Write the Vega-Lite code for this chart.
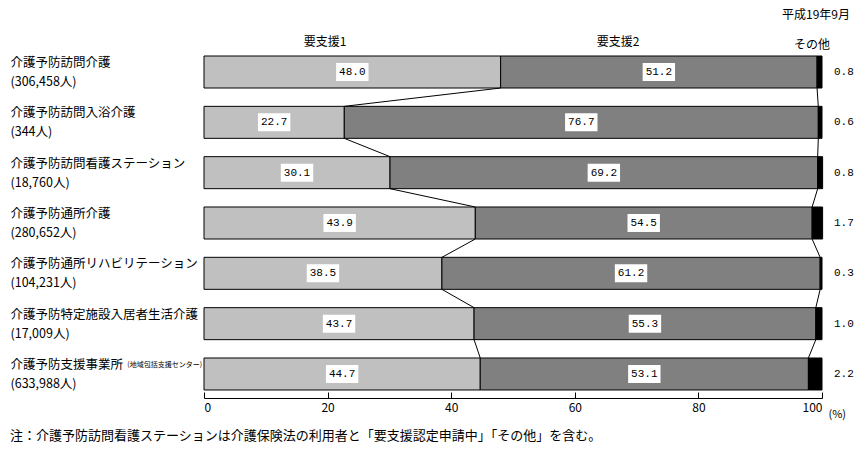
{
  "$schema": "https://vega.github.io/schema/vega-lite/v6.json",
  "width": 618,
  "height": 350,
  "autosize": "none",
  "padding": {"left": 204, "top": 48, "right": 40, "bottom": 52},
  "background": "white",
  "config": {"font": "Noto Sans CJK JP", "view": {"stroke": null}},
  "title": {
    "text": "注：介護予防訪問看護ステーションは介護保険法の利用者と「要支援認定申請中」「その他」を含む。",
    "orient": "bottom",
    "anchor": "start",
    "frame": "group",
    "dx": -194,
    "offset": 11,
    "fontSize": 13,
    "fontWeight": "normal",
    "color": "black"
  },
  "datasets": {
    "shares": [
      {"cat": "介護予防訪問介護|(306,458人)", "seg": "要支援1", "k": 1, "pct": 48.0},
      {"cat": "介護予防訪問介護|(306,458人)", "seg": "要支援2", "k": 2, "pct": 51.2},
      {"cat": "介護予防訪問介護|(306,458人)", "seg": "その他", "k": 3, "pct": 0.8},
      {"cat": "介護予防訪問入浴介護|(344人)", "seg": "要支援1", "k": 1, "pct": 22.7},
      {"cat": "介護予防訪問入浴介護|(344人)", "seg": "要支援2", "k": 2, "pct": 76.7},
      {"cat": "介護予防訪問入浴介護|(344人)", "seg": "その他", "k": 3, "pct": 0.6},
      {"cat": "介護予防訪問看護ステーション|(18,760人)", "seg": "要支援1", "k": 1, "pct": 30.1},
      {"cat": "介護予防訪問看護ステーション|(18,760人)", "seg": "要支援2", "k": 2, "pct": 69.2},
      {"cat": "介護予防訪問看護ステーション|(18,760人)", "seg": "その他", "k": 3, "pct": 0.8},
      {"cat": "介護予防通所介護|(280,652人)", "seg": "要支援1", "k": 1, "pct": 43.9},
      {"cat": "介護予防通所介護|(280,652人)", "seg": "要支援2", "k": 2, "pct": 54.5},
      {"cat": "介護予防通所介護|(280,652人)", "seg": "その他", "k": 3, "pct": 1.7},
      {"cat": "介護予防通所リハビリテーション|(104,231人)", "seg": "要支援1", "k": 1, "pct": 38.5},
      {"cat": "介護予防通所リハビリテーション|(104,231人)", "seg": "要支援2", "k": 2, "pct": 61.2},
      {"cat": "介護予防通所リハビリテーション|(104,231人)", "seg": "その他", "k": 3, "pct": 0.3},
      {"cat": "介護予防特定施設入居者生活介護|(17,009人)", "seg": "要支援1", "k": 1, "pct": 43.7},
      {"cat": "介護予防特定施設入居者生活介護|(17,009人)", "seg": "要支援2", "k": 2, "pct": 55.3},
      {"cat": "介護予防特定施設入居者生活介護|(17,009人)", "seg": "その他", "k": 3, "pct": 1.0},
      {"cat": "介護予防支援事業所|(633,988人)", "seg": "要支援1", "k": 1, "pct": 44.7},
      {"cat": "介護予防支援事業所|(633,988人)", "seg": "要支援2", "k": 2, "pct": 53.1},
      {"cat": "介護予防支援事業所|(633,988人)", "seg": "その他", "k": 3, "pct": 2.2}
    ],
    "links": [
      {"cat": "介護予防訪問介護|(306,458人)", "next": "介護予防訪問入浴介護|(344人)", "a": 48.0, "b": 22.7},
      {"cat": "介護予防訪問介護|(306,458人)", "next": "介護予防訪問入浴介護|(344人)", "a": 99.2, "b": 99.4},
      {"cat": "介護予防訪問入浴介護|(344人)", "next": "介護予防訪問看護ステーション|(18,760人)", "a": 22.7, "b": 30.1},
      {"cat": "介護予防訪問入浴介護|(344人)", "next": "介護予防訪問看護ステーション|(18,760人)", "a": 99.4, "b": 99.3},
      {"cat": "介護予防訪問看護ステーション|(18,760人)", "next": "介護予防通所介護|(280,652人)", "a": 30.1, "b": 43.9},
      {"cat": "介護予防訪問看護ステーション|(18,760人)", "next": "介護予防通所介護|(280,652人)", "a": 99.3, "b": 98.4},
      {"cat": "介護予防通所介護|(280,652人)", "next": "介護予防通所リハビリテーション|(104,231人)", "a": 43.9, "b": 38.5},
      {"cat": "介護予防通所介護|(280,652人)", "next": "介護予防通所リハビリテーション|(104,231人)", "a": 98.4, "b": 99.7},
      {"cat": "介護予防通所リハビリテーション|(104,231人)", "next": "介護予防特定施設入居者生活介護|(17,009人)", "a": 38.5, "b": 43.7},
      {"cat": "介護予防通所リハビリテーション|(104,231人)", "next": "介護予防特定施設入居者生活介護|(17,009人)", "a": 99.7, "b": 99.0},
      {"cat": "介護予防特定施設入居者生活介護|(17,009人)", "next": "介護予防支援事業所|(633,988人)", "a": 43.7, "b": 44.7},
      {"cat": "介護予防特定施設入居者生活介護|(17,009人)", "next": "介護予防支援事業所|(633,988人)", "a": 99.0, "b": 97.8}
    ]
  },
  "encoding": {
    "y": {
      "field": "cat",
      "type": "nominal",
      "scale": {
        "domain": [
          "介護予防訪問介護|(306,458人)",
          "介護予防訪問入浴介護|(344人)",
          "介護予防訪問看護ステーション|(18,760人)",
          "介護予防通所介護|(280,652人)",
          "介護予防通所リハビリテーション|(104,231人)",
          "介護予防特定施設入居者生活介護|(17,009人)",
          "介護予防支援事業所|(633,988人)"
        ],
        "paddingInner": 0.364,
        "paddingOuter": 0.159
      },
      "axis": {
        "title": null,
        "domain": false,
        "ticks": false,
        "labelAlign": "left",
        "labelPadding": 194,
        "labelOffset": -9,
        "labelFontSize": 12.5,
        "labelLineHeight": 19,
        "labelBaseline": "middle",
        "labelColor": "black",
        "labelLimit": 400,
        "labelExpr": "split(datum.label, '|')"
      }
    }
  },
  "layer": [
    {
      "data": {"name": "shares"},
      "mark": {"type": "bar", "stroke": "black", "strokeWidth": 1},
      "encoding": {
        "x": {
          "field": "pct",
          "type": "quantitative",
          "stack": "zero",
          "scale": {"domain": [0, 100], "nice": false},
          "axis": {
            "title": "(%)",
            "values": [0, 20, 40, 60, 80, 100],
            "grid": false,
            "tickSize": -6,
            "labelPadding": 10,
            "labelFontSize": 12,
            "labelColor": "black",
            "domainColor": "black",
            "tickColor": "black",
            "titleFontSize": 11,
            "titleFontWeight": "normal",
            "titleColor": "black",
            "titleAnchor": "end",
            "titleAlign": "left",
            "titleX": 624,
            "titleY": 10
          }
        },
        "order": {"field": "k"},
        "color": {
          "field": "seg",
          "type": "nominal",
          "legend": null,
          "scale": {
            "domain": ["要支援1", "要支援2", "その他"],
            "range": ["#c0c0c0", "#808080", "#000000"]
          }
        }
      }
    },
    {
      "data": {"name": "links"},
      "mark": {"type": "rule", "color": "black", "strokeWidth": 1},
      "encoding": {
        "x": {"field": "a", "type": "quantitative"},
        "x2": {"field": "b"},
        "y": {"field": "cat", "type": "nominal", "bandPosition": 1},
        "y2": {"field": "next", "bandPosition": 0}
      }
    },
    {
      "data": {"name": "shares"},
      "transform": [
        {"stack": "pct", "groupby": ["cat"], "sort": [{"field": "k"}], "as": ["x0", "x1"]},
        {"filter": "datum.k < 3"},
        {"calculate": "(datum.x0 + datum.x1) / 2", "as": "mid"}
      ],
      "encoding": {
        "x": {"field": "mid", "type": "quantitative"}
      },
      "layer": [
        {
          "mark": {
            "type": "point",
            "shape": "M-1.8,-1H1.8V1H-1.8Z",
            "filled": true,
            "fill": "white",
            "strokeWidth": 0,
            "opacity": 1,
            "size": 324
          }
        },
        {
          "mark": {"type": "text", "font": "Liberation Mono", "fontSize": 11, "color": "black"},
          "encoding": {"text": {"field": "pct", "type": "quantitative", "format": ".1f"}}
        }
      ]
    },
    {
      "data": {"name": "shares"},
      "transform": [{"filter": "datum.k == 3"}],
      "mark": {"type": "text", "align": "left", "dx": 12, "font": "Liberation Mono", "fontSize": 11, "color": "black"},
      "encoding": {
        "x": {"datum": 100, "type": "quantitative"},
        "text": {"field": "pct", "type": "quantitative", "format": ".1f"}
      }
    },
    {
      "data": {"values": [{}]},
      "mark": {"type": "text", "fontSize": 7, "align": "right", "dx": -2, "dy": -9, "color": "black"},
      "encoding": {
        "x": {"datum": 0, "type": "quantitative"},
        "y": {"datum": "介護予防支援事業所|(633,988人)", "type": "nominal"},
        "text": {"value": "(地域包括支援センター)"}
      }
    },
    {
      "data": {"values": [{}]},
      "mark": {"type": "text", "fontSize": 12, "dy": -30, "color": "black"},
      "encoding": {
        "x": {"datum": 19.6, "type": "quantitative"},
        "y": {"datum": "介護予防訪問介護|(306,458人)", "type": "nominal"},
        "text": {"value": "要支援1"}
      }
    },
    {
      "data": {"values": [{}]},
      "mark": {"type": "text", "fontSize": 12, "dy": -30, "color": "black"},
      "encoding": {
        "x": {"datum": 67.0, "type": "quantitative"},
        "y": {"datum": "介護予防訪問介護|(306,458人)", "type": "nominal"},
        "text": {"value": "要支援2"}
      }
    },
    {
      "data": {"values": [{}]},
      "mark": {"type": "text", "fontSize": 12, "dy": -27, "color": "black"},
      "encoding": {
        "x": {"datum": 98.4, "type": "quantitative"},
        "y": {"datum": "介護予防訪問介護|(306,458人)", "type": "nominal"},
        "text": {"value": "その他"}
      }
    },
    {
      "data": {"values": [{}]},
      "mark": {"type": "text", "fontSize": 12, "align": "right", "dx": 28, "dy": -57, "color": "black"},
      "encoding": {
        "x": {"datum": 100, "type": "quantitative"},
        "y": {"datum": "介護予防訪問介護|(306,458人)", "type": "nominal"},
        "text": {"value": "平成19年9月"}
      }
    }
  ]
}
